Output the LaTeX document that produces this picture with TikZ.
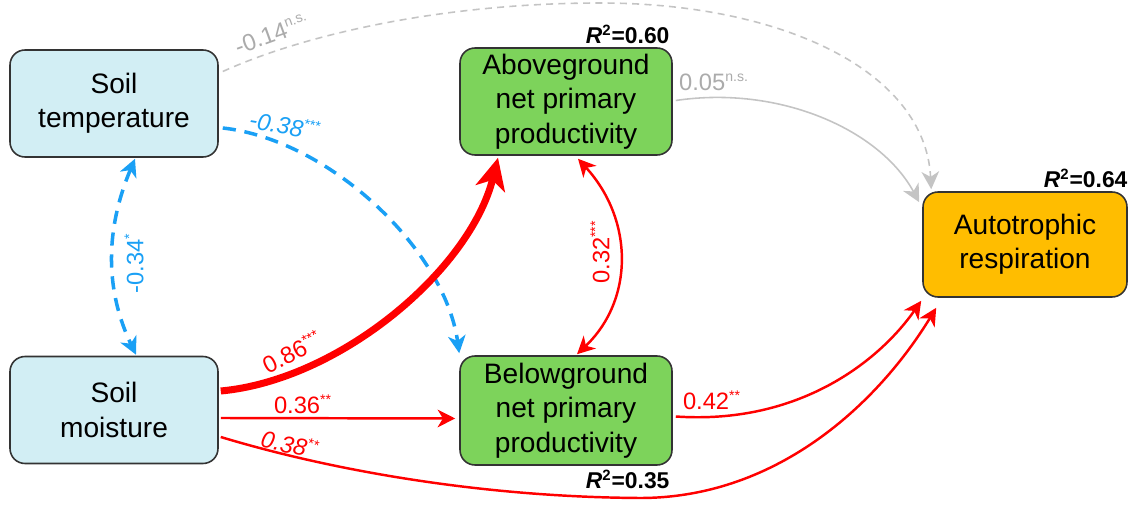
\documentclass[tikz,border=0pt]{standalone}
\usepackage{fontspec}
\setmainfont{Liberation Sans}
\usetikzlibrary{arrows.meta}
\definecolor{cyanfill}{HTML}{D2EEF4}
\definecolor{greenfill}{HTML}{7DD35B}
\definecolor{orangefill}{HTML}{FFBD00}
\definecolor{bordercol}{HTML}{333333}
\definecolor{bluearr}{HTML}{1AA0F5}
\definecolor{grayarr}{HTML}{C4C4C4}
\definecolor{graylab}{HTML}{ABABAB}
\definecolor{redarr}{HTML}{FF0000}
\newcommand{\sig}[1]{\textsuperscript{\fontsize{8}{8}\selectfont #1}}
\newcommand{\rsq}[1]{\textbf{\textit{R}\textsuperscript{\fontsize{8.5}{8.5}\selectfont 2}=#1}}
\tikzset{
  box/.style={draw=bordercol, line width=0.9pt, rounded corners=8.5pt,
    minimum width=4.16cm, minimum height=2.14cm, align=center, inner sep=0pt,
    font=\fontsize{16}{19.5}\selectfont},
  lab/.style={font=\fontsize{13.5}{14}\selectfont, inner sep=1pt},
  rsqlab/.style={font=\fontsize{13}{14}\selectfont, inner sep=0pt},
  head/.style={-{Stealth[length=10pt,width=10pt,inset=3pt]}},
  dhead/.style={{Stealth[length=10pt,width=10pt,inset=3pt]}-{Stealth[length=10pt,width=10pt,inset=3pt]}},
  redline/.style={draw=redarr, line width=1.4pt},
  blueline/.style={draw=bluearr, line width=2pt, dash pattern=on 7.5pt off 5pt},
  grayline/.style={draw=grayarr, line width=0.9pt},
}
\begin{document}
\begin{tikzpicture}[x=0.02cm, y=-0.02cm]
\useasboundingbox (0,0) rectangle (1129,506);
% boxes
\node[box, fill=cyanfill] (temp) at (114,103.5) {Soil\\temperature};
\node[box, fill=cyanfill] (moist) at (114,410) {Soil\\moisture};
\node[box, fill=greenfill, minimum width=4.24cm] (anpp) at (566,101.5) {Aboveground\\net primary\\productivity};
\node[box, fill=greenfill, minimum width=4.24cm, minimum height=2.18cm] (bnpp) at (566,410.5) {Belowground\\net primary\\productivity};
\node[box, fill=orangefill, minimum width=4.08cm, minimum height=2.1cm] (ar) at (1025,244.5) {Autotrophic\\respiration};
% R2 labels
\node[rsqlab, anchor=south east] (r1) at ([shift={(-3,-3)}]anpp.north east) {\rsq{0.60}};
\node[rsqlab, anchor=north east] (r2) at ([shift={(-3,4)}]bnpp.south east) {\rsq{0.35}};
\node[rsqlab, anchor=south east] (r3) at ([shift={(0,-3)}]ar.north east) {\rsq{0.64}};
% gray connectors
\draw[grayline, dash pattern=on 4pt off 3pt, head] ([shift={(4,-32)}]temp.east)
  .. controls (310,32) and (450,3) .. (600,3)
  .. controls (780,3) and (925,70) .. ([shift={(9,-2)}]ar.north west);
\node[lab, text=graylab, rotate=20] (l014) at (272,34) {-0.14\sig{n.s.}};
\draw[grayline, head] ([shift={(3,-1)}]anpp.east)
  .. controls (780,85) and (880,130) .. ([shift={(-3,11)}]ar.north west);
\node[lab, text=graylab] (l005) at (714,82) {0.05\sig{n.s.}};
% blue connectors
\draw[blueline, head] ([shift={(4,24.5)}]temp.east)
  .. controls (330,140) and (445,250) .. ([shift={(0,-2)}]bnpp.north west);
\node[lab, text=bluearr, rotate=-10] (l038a) at (285,125) {\itshape -0.38\sig{***}};
\draw[blueline, dhead] ([shift={(21,1)}]temp.south)
  .. controls (105,230) and (105,290) .. ([shift={(22,-1)}]moist.north);
\node[lab, text=bluearr, rotate=90] (l034) at (134,263) {-0.34\sig{*}};
% red connectors
\draw[draw=redarr, line width=4pt, -{Stealth[length=18pt,width=17pt,inset=5pt]}] ([shift={(2,-19)}]moist.east)
  .. controls (340,380) and (470,270) .. ([shift={(-68,2)}]anpp.south);
\node[lab, text=redarr, rotate=27] (l086) at (292,352) {0.86\sig{***}};
\draw[redline, head] ([shift={(2,8)}]moist.east) -- ([shift={(-4,8)}]bnpp.west);
\node[lab, text=redarr] (l036) at (303,404) {0.36\sig{**}};
\draw[redline, head] ([shift={(2,27)}]moist.east)
  .. controls (330,470) and (480,497) .. (640,498)
  .. controls (780,498) and (880,400) .. ([shift={(14,10)}]ar.south west);
\node[lab, text=redarr, rotate=-13] (l038b) at (290,444) {\itshape 0.38\sig{**}};
\draw[redline, head] ([shift={(3,6)}]bnpp.east)
  .. controls (800,425) and (880,360) .. ([shift={(-1,3)}]ar.south west);
\node[lab, text=redarr] (l042) at (712,400) {0.42\sig{**}};
\draw[redline, dhead] ([shift={(12,3)}]anpp.south)
  .. controls (634,220) and (634,300) .. ([shift={(11,-1)}]bnpp.north);
\node[lab, text=redarr, rotate=90] (l032) at (600,252) {0.32\sig{***}};
\end{tikzpicture}
\end{document}
